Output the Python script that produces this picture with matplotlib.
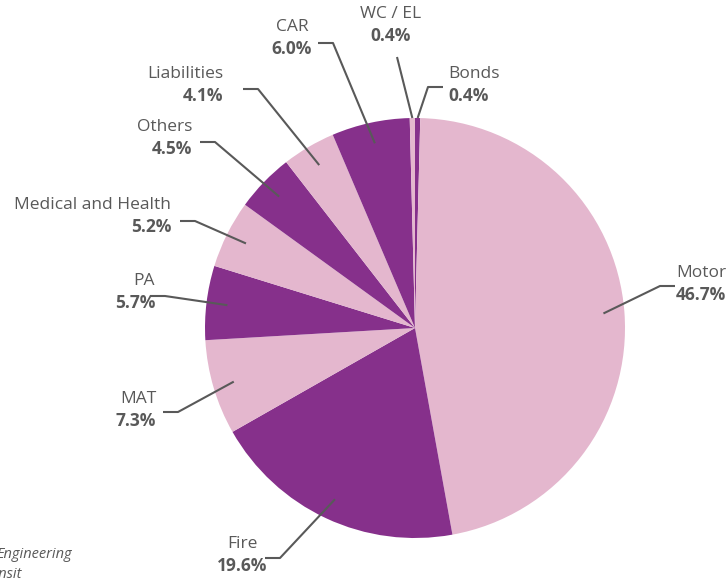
import numpy as np
import matplotlib
matplotlib.use("Agg")
import matplotlib.pyplot as plt

plt.rcParams['font.family'] = ['Open Sans', 'DejaVu Sans']

# slices in clockwise order starting at 12 o'clock
categories = ['Bonds', 'Motor', 'Fire', 'MAT', 'PA', 'Medical and Health',
              'Others', 'Liabilities', 'CAR', 'WC / EL']
shares = [0.4, 46.7, 19.6, 7.3, 5.7, 5.2, 4.5, 4.1, 6.0, 0.4]

pink = '#E4B7CE'
purple = '#86308B'
colors = [purple, pink, purple, pink, purple, pink, purple, pink, purple, pink]

W, H = 728, 581
fig = plt.figure(figsize=(W / 100, H / 100), dpi=100)
ax = fig.add_axes([0, 0, 1, 1])
ax.set_xlim(0, W)
ax.set_ylim(0, H)
ax.set_aspect('equal')
ax.axis('off')

cx, cy, R = 415, H - 328, 210
ax.pie(shares, colors=colors, startangle=90, counterclock=False,
       center=(cx, cy), radius=R, wedgeprops=dict(linewidth=0))
ax.set_xlim(0, W)
ax.set_ylim(0, H)

# label layout: elbow point, text anchor, alignment (pixel coords from top-left)
layout = {
    'Bonds': ((428, 87), (448, 85), 'left'),
    'Motor': ((660, 286), (676, 284), 'left'),
    'Fire': ((280, 558), (242, 555), 'center'),
    'MAT': ((178, 412), (156, 410), 'right'),
    'PA': ((165, 296), (155, 292), 'right'),
    'Medical and Health': ((195, 221), (171, 216), 'right'),
    'Others': ((215, 142), (192, 138), 'right'),
    'Liabilities': ((258, 89), (223, 85), 'right'),
    'CAR': ((333, 43), (292, 38), 'center'),
    'WC / EL': ((397, 57), (391, 25), 'center'),
}
radial = {'Bonds': 1.0, 'WC / EL': 1.0, 'PA': 0.9}

gray = '#595959'
cum = np.cumsum([0] + shares)
total = sum(shares)
for i, name in enumerate(categories):
    mid = (cum[i] + cum[i + 1]) / 2 / total * 2 * np.pi
    rr = R * radial.get(name, 0.9)
    px, py = cx + rr * np.sin(mid), cy + rr * np.cos(mid)
    (ex, ey), (tx, ty), ha = layout[name]
    ey, ty = H - ey, H - ty
    if name == 'WC / EL':
        xs, ys = [px, ex], [py, ey]
    else:
        side = -1 if ha == 'right' or (ha == 'center' and ex < cx) else 1
        xs, ys = [px, ex, ex + side * 15], [py, ey, ey]
        if name == 'CAR':
            xs, ys = [px, ex, ex - 15], [py, ey, ey]
    ax.plot(xs, ys, color=gray, lw=1.5, solid_capstyle='butt')
    ax.text(tx, ty + 11, name, ha=ha, va='center', color=gray, fontsize=12.5)
    ax.text(tx, ty - 11, f'{shares[i]:.1f}%', ha=ha, va='center', color=gray,
            fontsize=12.5, fontweight='bold')

# footnote partly cut off at the left edge
ax.text(72, H - 555, 'Engineering', ha='right', va='center', color=gray,
        fontsize=10.5, style='italic')
ax.text(22, H - 574, 'Transit', ha='right', va='center', color=gray,
        fontsize=10.5, style='italic')

fig.savefig('out.png', dpi=100)
